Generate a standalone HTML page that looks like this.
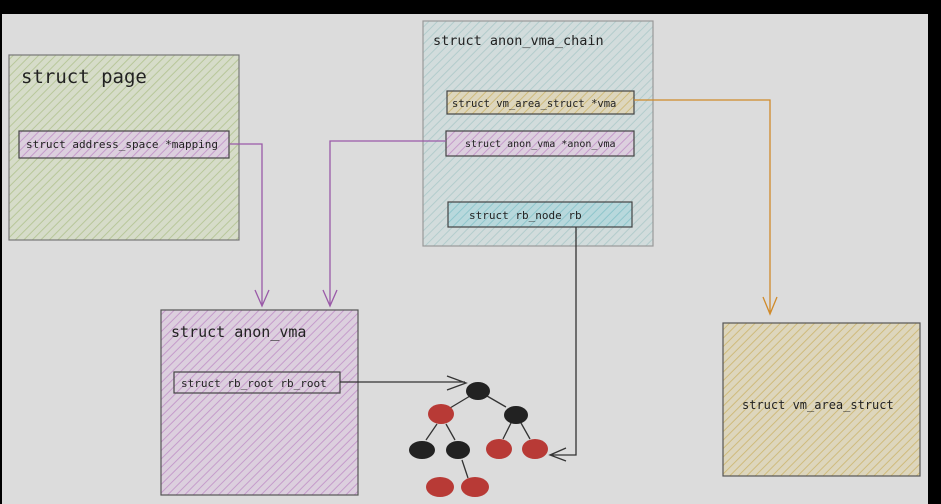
<!DOCTYPE html>
<html><head><style>body{margin:0;background:#000}svg{display:block}text{font-family:"DejaVu Sans Mono","Liberation Mono",monospace;fill:#222}</style></head>
<body>
<svg width="941" height="504" viewBox="0 0 941 504" xmlns="http://www.w3.org/2000/svg">
<defs>
<pattern id="hg" width="6" height="6" patternUnits="userSpaceOnUse" patternTransform="rotate(45)"><rect width="6" height="6" fill="#d6dcc9"/><line x1="0" y1="0" x2="0" y2="6" stroke="#b8c79a" stroke-width="2"/></pattern>
<pattern id="hp" width="6" height="6" patternUnits="userSpaceOnUse" patternTransform="rotate(45)"><rect width="6" height="6" fill="#dccfde"/><line x1="0" y1="0" x2="0" y2="6" stroke="#c59ccb" stroke-width="2"/></pattern>
<pattern id="hb" width="6" height="6" patternUnits="userSpaceOnUse" patternTransform="rotate(45)"><rect width="6" height="6" fill="#d2dcdc"/><line x1="0" y1="0" x2="0" y2="6" stroke="#b3cccc" stroke-width="2"/></pattern>
<pattern id="hy" width="6" height="6" patternUnits="userSpaceOnUse" patternTransform="rotate(45)"><rect width="6" height="6" fill="#ddd6bd"/><line x1="0" y1="0" x2="0" y2="6" stroke="#cfbb7c" stroke-width="2"/></pattern>
<pattern id="ht" width="6" height="6" patternUnits="userSpaceOnUse" patternTransform="rotate(45)"><rect width="6" height="6" fill="#b8d8dc"/><line x1="0" y1="0" x2="0" y2="6" stroke="#8fc6cc" stroke-width="2"/></pattern>
</defs>
<rect x="2" y="14" width="926" height="490" fill="#dcdcdc"/>
<rect x="9" y="55" width="230" height="185" fill="url(#hg)" stroke="#777" stroke-width="1.2"/>
<text x="21" y="83" font-size="19">struct page</text>
<rect x="19" y="131" width="210" height="27" fill="url(#hp)" stroke="#444" stroke-width="1.2"/>
<text x="26" y="148" font-size="11">struct address_space *mapping</text>
<rect x="423" y="21" width="230" height="225" fill="url(#hb)" stroke="#999" stroke-width="1.2"/>
<text x="433" y="45" font-size="13.5">struct anon_vma_chain</text>
<rect x="447" y="91" width="187" height="23" fill="url(#hy)" stroke="#444" stroke-width="1.2"/>
<text x="452" y="107" font-size="10.5">struct vm_area_struct *vma</text>
<rect x="446" y="131" width="188" height="25" fill="url(#hp)" stroke="#444" stroke-width="1.2"/>
<text x="465" y="147" font-size="10">struct anon_vma *anon_vma</text>
<rect x="448" y="202" width="184" height="25" fill="url(#ht)" stroke="#444" stroke-width="1.2"/>
<text x="469" y="219" font-size="11">struct rb_node rb</text>
<rect x="161" y="310" width="197" height="185" fill="url(#hp)" stroke="#555" stroke-width="1.2"/>
<text x="171" y="337" font-size="15">struct anon_vma</text>
<rect x="174" y="372" width="166" height="21" fill="url(#hp)" stroke="#444" stroke-width="1.2"/>
<text x="181" y="387" font-size="11">struct rb_root rb_root</text>
<rect x="723" y="323" width="197" height="153" fill="url(#hy)" stroke="#555" stroke-width="1.2"/>
<text x="742" y="409" font-size="12">struct vm_area_struct</text>
<g fill="none" stroke-width="1.3">
<path d="M229 144H262V305M255 290L262 306L269 290" stroke="#9a5aa8"/>
<path d="M446 141H330V305M323 290L330 306L337 290" stroke="#9a5aa8"/>
<path d="M634 100H770V313M763 297L770 314L777 297" stroke="#d08a2a"/>
<path d="M340 382H465M447 376L466 383L447 390" stroke="#333"/>
<path d="M576 227V455H552M566 448L550 455L566 461" stroke="#333"/>
<path d="M470 396L450 408M487 396L506 407M437 424L426 440M446 424L455 440M511 423L503 439M521 423L530 439M462 460L468 478" stroke="#333"/>
</g>
<g>
<ellipse cx="478" cy="391" rx="12" ry="9" fill="#222"/>
<ellipse cx="441" cy="414" rx="13" ry="10" fill="#b83a36"/>
<ellipse cx="516" cy="415" rx="12" ry="9" fill="#222"/>
<ellipse cx="422" cy="450" rx="13" ry="9" fill="#222"/>
<ellipse cx="458" cy="450" rx="12" ry="9" fill="#222"/>
<ellipse cx="499" cy="449" rx="13" ry="10" fill="#b83a36"/>
<ellipse cx="535" cy="449" rx="13" ry="10" fill="#b83a36"/>
<ellipse cx="440" cy="487" rx="14" ry="10" fill="#b83a36"/>
<ellipse cx="475" cy="487" rx="14" ry="10" fill="#b83a36"/>
</g>
</svg>
</body></html>
